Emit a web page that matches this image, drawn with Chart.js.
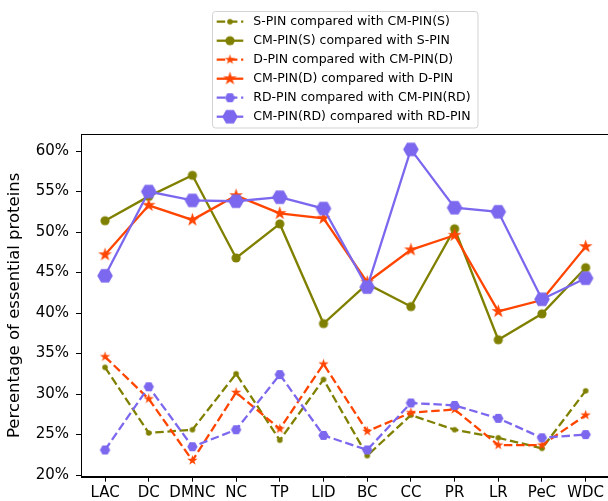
<!DOCTYPE html>
<html>
<head>
<meta charset="utf-8">
<script src="https://cdn.jsdelivr.net/npm/chart.js@4.4.0/dist/chart.umd.min.js"></script>
<style>
  html, body { margin: 0; padding: 0; overflow: hidden; background: #fff; }
  /* plot runs a little past the right edge of the window, like the reference */
  #wrap { width: 620px; height: 501px; }
</style>
</head>
<body>
<div id="wrap"><canvas id="essentialChart"></canvas></div>
<script>
// categories (centrality measures)
const categories = ["LAC", "DC", "DMNC", "NC", "TP", "LID", "BC", "CC", "PR", "LR", "PeC", "WDC"];

// percentage of essential proteins per series
const sPin    = [33.3, 25.2, 25.6, 32.5, 24.3, 31.8, 22.4, 27.4, 25.6, 24.6, 23.3, 30.4];
const cmPinS  = [51.4, 54.4, 57.0, 46.8, 51.0, 38.7, 43.6, 40.8, 50.4, 36.7, 39.9, 45.6];
const dPin    = [34.6, 29.4, 21.8, 30.2, 25.7, 33.7, 25.4, 27.7, 28.1, 23.7, 23.7, 27.4];
const cmPinD  = [47.2, 53.3, 51.5, 54.5, 52.3, 51.7, 43.8, 47.8, 49.6, 40.2, 41.6, 48.2];
const rdPin   = [23.1, 30.9, 23.5, 25.6, 32.4, 24.9, 23.1, 28.9, 28.6, 27.0, 24.6, 25.0];
const cmPinRD = [44.6, 55.0, 53.9, 53.8, 54.3, 52.9, 43.2, 60.2, 53.0, 52.5, 41.7, 44.3];

const yTicks = [20, 25, 30, 35, 40, 45, 50, 55, 60];

const OLIVE = "#808000";
const RED = "#FF4500";
const PURPLE = "#7B68EE";

// filled marker drawn once on a small canvas, used as pointStyle
function makeMarker(shape, size, color) {
  const c = document.createElement("canvas");
  const dim = Math.ceil(size * 2 + 4);
  c.width = dim;
  c.height = dim;
  const g = c.getContext("2d");
  const m = dim / 2;
  g.fillStyle = color;
  g.beginPath();
  if (shape === "circle") {
    g.arc(m, m, size, 0, Math.PI * 2);
  } else if (shape === "star") {
    for (let k = 0; k < 10; k++) {
      const r = k % 2 ? size * 0.382 : size;
      const a = -Math.PI / 2 + (k * Math.PI) / 5;
      g.lineTo(m + r * Math.cos(a), m + r * Math.sin(a));
    }
    g.closePath();
  } else if (shape === "hexagon") {
    for (let k = 0; k < 6; k++) {
      const a = (k * Math.PI) / 3;
      g.lineTo(m + size * Math.cos(a), m + size * Math.sin(a));
    }
    g.closePath();
  }
  g.fill();
  return c;
}

const series = [
  { label: "S-PIN compared with CM-PIN(S)", data: sPin, color: OLIVE, dashed: true, marker: makeMarker("circle", 2.8, OLIVE) },
  { label: "CM-PIN(S) compared with S-PIN", data: cmPinS, color: OLIVE, dashed: false, marker: makeMarker("circle", 4.6, OLIVE) },
  { label: "D-PIN compared with CM-PIN(D)", data: dPin, color: RED, dashed: true, marker: makeMarker("star", 5.4, RED) },
  { label: "CM-PIN(D) compared with D-PIN", data: cmPinD, color: RED, dashed: false, marker: makeMarker("star", 7.2, RED) },
  { label: "RD-PIN compared with CM-PIN(RD)", data: rdPin, color: PURPLE, dashed: true, marker: makeMarker("hexagon", 5.2, PURPLE) },
  { label: "CM-PIN(RD) compared with RD-PIN", data: cmPinRD, color: PURPLE, dashed: false, marker: makeMarker("hexagon", 7.8, PURPLE) },
];

// legend box above the plot + top spine
const legendLayout = { x: 212.5, y: 11.5, w: 265.5, h: 116.5, firstRow: 21.7, rowGap: 19, lineX0: 216.7, lineX1: 243.3, textX: 253.3 };

const frameAndLegend = {
  id: "frameAndLegend",
  afterDraw(chart) {
    const ctx = chart.ctx;
    const a = chart.chartArea;
    ctx.save();
    ctx.strokeStyle = "#000";
    ctx.lineWidth = 1;
    ctx.strokeRect(Math.round(a.left) + 0.5, Math.round(a.top) + 0.5, Math.round(a.right - a.left), Math.round(a.bottom - a.top));

    const L = legendLayout;
    ctx.strokeStyle = "#d3d3d3";
    ctx.beginPath();
    if (ctx.roundRect) ctx.roundRect(L.x, L.y, L.w, L.h, 3);
    else ctx.rect(L.x, L.y, L.w, L.h);
    ctx.stroke();

    ctx.font = '12.5px "DejaVu Sans"';
    ctx.textBaseline = "middle";
    ctx.textAlign = "left";
    chart.data.datasets.forEach((ds, i) => {
      const y = L.firstRow + i * L.rowGap;
      ctx.strokeStyle = ds.borderColor;
      ctx.lineWidth = ds.borderWidth;
      ctx.setLineDash(ds.borderDash);
      ctx.beginPath();
      ctx.moveTo(L.lineX0, y);
      ctx.lineTo(L.lineX1, y);
      ctx.stroke();
      ctx.setLineDash([]);
      const mk = ds.pointStyle;
      ctx.drawImage(mk, (L.lineX0 + L.lineX1) / 2 - mk.width / 2, y - mk.height / 2);
      ctx.fillStyle = "#000";
      ctx.fillText(ds.label, L.textX, y);
    });
    ctx.restore();
  },
};

const tickFont = { family: "DejaVu Sans", size: 15 };

new Chart(document.getElementById("essentialChart").getContext("2d"), {
  type: "line",
  data: {
    datasets: series.map((s, i) => ({
      label: s.label,
      data: s.data.map((v, j) => ({ x: j, y: v })),
      borderColor: s.color,
      backgroundColor: s.color,
      borderWidth: 2.3,
      borderDash: s.dashed ? [8.5, 3.7] : [],
      pointStyle: s.marker,
      pointRadius: 5,
      tension: 0,
      fill: false,
      order: series.length - i, // later series drawn on top
    })),
  },
  options: {
    responsive: true,
    maintainAspectRatio: false,
    animation: false,
    events: [],
    layout: { padding: { top: 134, right: 10.3, bottom: 0, left: 0 } },
    plugins: {
      legend: { display: false },
      tooltip: { enabled: false },
    },
    scales: {
      x: {
        type: "linear",
        min: -0.55,
        max: 11.55,
        afterBuildTicks: (s) => {
          s.ticks = categories.map((c, i) => ({ value: i }));
        },
        afterFit: (s) => {
          s.height = 24.3;
        },
        ticks: {
          autoSkip: false,
          maxRotation: 0,
          callback: (v) => categories[v],
          color: "#000",
          font: tickFont,
          padding: 2,
        },
        grid: { drawOnChartArea: false, tickLength: 5, color: "#000", lineWidth: 1 },
        border: { color: "#000", width: 1 },
      },
      y: {
        min: 19.8,
        max: 62.1,
        afterBuildTicks: (s) => {
          s.ticks = yTicks.map((v) => ({ value: v }));
        },
        afterFit: (s) => {
          s.width = 81;
        },
        ticks: {
          callback: (v) => v + "%",
          color: "#000",
          font: tickFont,
          padding: 7,
        },
        grid: { drawOnChartArea: false, tickLength: 5, color: "#000", lineWidth: 1 },
        border: { color: "#000", width: 1 },
        title: {
          display: true,
          text: "Percentage of essential proteins",
          color: "#000",
          font: { family: "DejaVu Sans", size: 16.5 },
          padding: { top: 5, bottom: 0 },
        },
      },
    },
  },
  plugins: [frameAndLegend],
});
</script>
</body>
</html>
